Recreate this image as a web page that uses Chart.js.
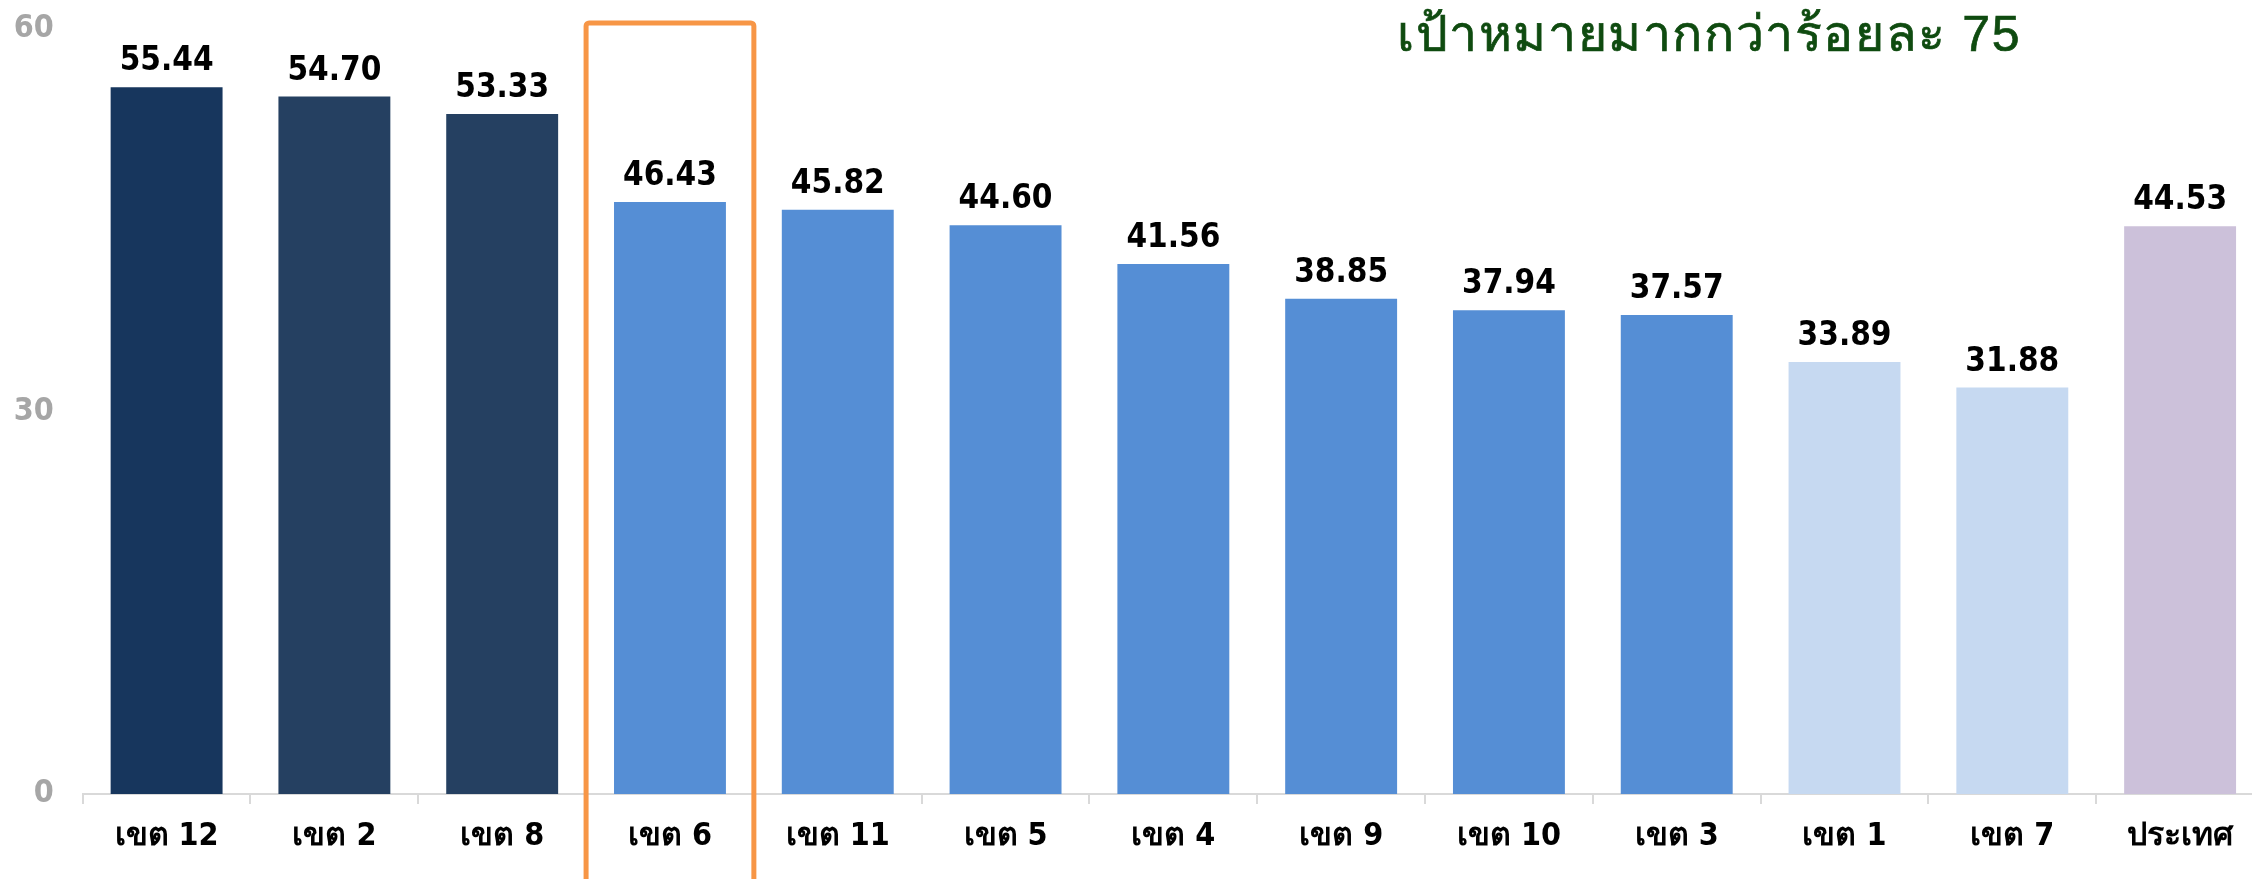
<!DOCTYPE html>
<html>
<head>
<meta charset="utf-8">
<script src="https://cdn.jsdelivr.net/npm/chart.js@4.4.1/dist/chart.umd.min.js"></script>
<style>
  html, body { margin: 0; padding: 0; background: #fff; overflow: hidden; }
  .wrap { position: relative; width: 2264px; height: 879px; }
  .goal {
    position: absolute; left: 1397px; top: 6px;
    font-family: 'Liberation Sans', Arial, sans-serif;
    font-size: 50px; line-height: 56px; color: #0f4b10;
    letter-spacing: 1.6px;
    -webkit-text-stroke: 0.7px #0f4b10;
    white-space: nowrap;
  }
</style>
</head>
<body>
<div class="wrap">
  <canvas id="chart"></canvas>
  <div class="goal">เป้าหมายมากกว่าร้อยละ 75</div>
</div>
<script>
const categories = ['เขต 12', 'เขต 2', 'เขต 8', 'เขต 6', 'เขต 11', 'เขต 5', 'เขต 4', 'เขต 9', 'เขต 10', 'เขต 3', 'เขต 1', 'เขต 7', 'ประเทศ'];
const values = [55.44, 54.70, 53.33, 46.43, 45.82, 44.60, 41.56, 38.85, 37.94, 37.57, 33.89, 31.88, 44.53];
const yTicks = [0, 30, 60];
const highlightCategory = 'เขต 6';

const barColors = ['#17365d', '#254061', '#254061',
  '#558ed5', '#558ed5', '#558ed5', '#558ed5', '#558ed5', '#558ed5', '#558ed5',
  '#c6d9f1', '#c6d9f1', '#ccc1da'];

const numFont = "'DejaVu Sans Condensed', 'DejaVu Sans', sans-serif";

// value labels above the bars
const valueLabels = {
  id: 'valueLabels',
  afterDatasetsDraw(chart) {
    const ctx = chart.ctx;
    const meta = chart.getDatasetMeta(0);
    ctx.save();
    ctx.font = 'bold 33px ' + numFont;
    ctx.fillStyle = '#000';
    ctx.textAlign = 'center';
    ctx.textBaseline = 'alphabetic';
    meta.data.forEach((bar, i) => {
      ctx.fillText(values[i].toFixed(2), bar.x, bar.y - 17);
    });
    ctx.restore();
  }
};

// orange frame round the highlighted district
const highlightBox = {
  id: 'highlightBox',
  afterDraw(chart) {
    const idx = categories.indexOf(highlightCategory);
    if (idx < 0) return;
    const x = chart.scales.x;
    const half = x.width / categories.length / 2;
    const cx = x.getPixelForValue(idx);
    const ctx = chart.ctx;
    ctx.save();
    ctx.strokeStyle = '#f79646';
    ctx.lineWidth = 5;
    ctx.beginPath();
    ctx.roundRect(cx - half, chart.chartArea.top - 6, half * 2, chart.height + 20, 3);
    ctx.stroke();
    ctx.restore();
  }
};

new Chart(document.getElementById('chart'), {
  type: 'bar',
  data: {
    labels: categories,
    datasets: [{
      data: values,
      backgroundColor: barColors,
      barPercentage: 0.667,
      categoryPercentage: 1.0
    }]
  },
  options: {
    responsive: true,
    maintainAspectRatio: false,
    animation: false,
    layout: { padding: { top: 29, right: 0, left: 0, bottom: 0 } },
    plugins: {
      legend: { display: false },
      tooltip: { enabled: false }
    },
    scales: {
      x: {
        grid: {
          drawOnChartArea: false,
          color: '#d9d9d9',
          tickLength: 10,
          lineWidth: 2
        },
        border: { color: '#d9d9d9', width: 2 },
        ticks: {
          color: '#000',
          font: { family: numFont, size: 32, weight: 'bold' },
          padding: 13,
          maxRotation: 0,
          autoSkip: false
        },
        afterFit(scale) { scale.height = 85; }
      },
      y: {
        min: 0,
        max: 60,
        afterBuildTicks(scale) { scale.ticks = yTicks.map(v => ({ value: v })); },
        grid: { display: false, drawTicks: false },
        border: { display: false },
        ticks: {
          color: '#a6a6a6',
          font: { family: numFont, size: 32, weight: 'bold' },
          padding: 29
        },
        afterFit(scale) {
          scale.width = 82.7;
          // the top label may overhang; keep the plot top where the picture has it
          scale.paddingTop = 0;
          scale.paddingBottom = 0;
        }
      }
    }
  },
  plugins: [valueLabels, highlightBox]
});
</script>
</body>
</html>
